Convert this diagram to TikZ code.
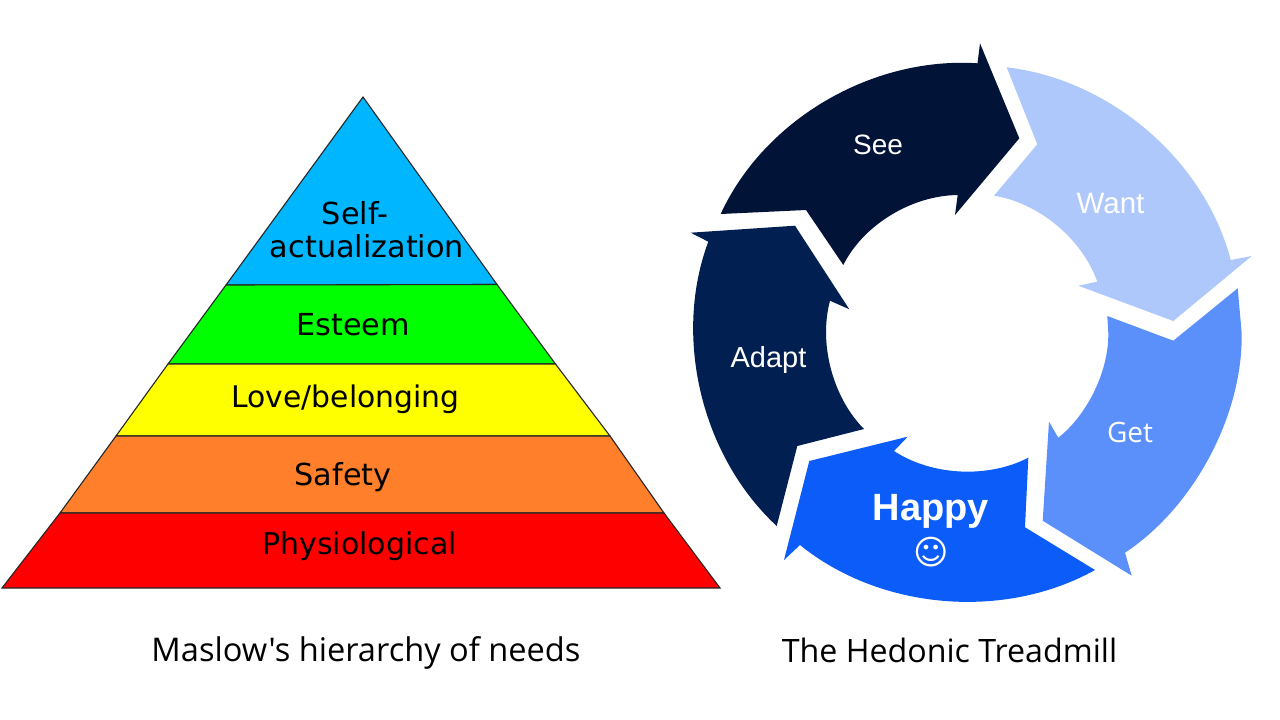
\documentclass[tikz,border=0pt]{standalone}
\usepackage{fontspec}
\setmainfont{Open Sans}
\newfontfamily\capfont{Open Sans}
\newfontfamily\dejavu{DejaVu Sans}
\newfontfamily\libsans{Liberation Sans}
\usetikzlibrary{calc}
\definecolor{cSee}{HTML}{021338}
\definecolor{cAdapt}{HTML}{011F50}
\definecolor{cWant}{HTML}{AEC8FB}
\definecolor{cGet}{HTML}{5B90FB}
\definecolor{cHappy}{HTML}{0B5CF8}
\definecolor{cSelf}{HTML}{00B7FF}
\definecolor{cGreen}{HTML}{00FF00}
\definecolor{cYellow}{HTML}{FFFF00}
\definecolor{cOrange}{HTML}{FF7F2A}
\definecolor{cRed}{HTML}{FF0000}
\newcommand\thru[3]{.. controls ($0.0433*#1-0.3767*#3+1.3333*#2$) and ($0.0433*#3-0.3767*#1+1.3333*#2$) .. #3}
\tikzset{
  layer/.style={draw=black!85,line width=1.1pt,line join=miter},
  plabel/.style={font=\dejavu\fontsize{30.3}{34}\selectfont,text=black,inner sep=0pt,align=center},
  captext/.style={text=black,inner sep=0pt},
  alabel/.style={text=white,inner sep=0pt},
}
\begin{document}
\begin{tikzpicture}[x=1pt,y=-1pt]
\useasboundingbox (0,0) rectangle (1280,720);
% pyramid
\fill[white] (0,0) rectangle (1280,720);
\draw[layer,fill=cSelf] (363,97) -- (497,284.5) -- (226,285) -- cycle;
\draw[layer,fill=cGreen] (226,285) -- (497,284.5) -- (555.5,364) -- (168,364) -- cycle;
\draw[layer,fill=cYellow] (168,364) -- (555.5,364) -- (610,436) -- (116,436) -- cycle;
\draw[layer,fill=cOrange] (116,436) -- (610,436) -- (664,513) -- (60,513) -- cycle;
\draw[layer,fill=cRed] (60,513) -- (664,513) -- (720,588) -- (2,588) -- cycle;
\node[plabel] (self) at (355,213) {Self-};
\node[plabel] (act) at (367,246) {actualization};
\node[plabel] (esteem) at (353,325) {Esteem};
\node[plabel,font=\dejavu\fontsize{29.8}{34}\selectfont] (love) at (345.5,399.5) {Love/belonging};
\node[plabel] (safety) at (343,477.5) {Safety};
\node[plabel,font=\dejavu\fontsize{30}{34}\selectfont] (phys) at (359.5,546.5) {Physiological};
% treadmill
\fill[cSee] (720.7,214) \thru{(720.7,214)}{(825.8,100.7)}{(977.5,63.3)} -- (980,43.3) -- (1019.3,138.3) -- (955,215) -- (957.7,195)
  \thru{(957.7,195)}{(890.7,215.2)}{(843.3,265)} -- (806,210) -- cycle;
\fill[cWant] (1006.7,67.3) \thru{(1006.7,67.3)}{(1148,130.9)}{(1230.7,260)} -- (1251.7,256) -- (1173.3,321) -- (1078.3,285.7) -- (1097.3,281.7)
  \thru{(1097.3,281.7)}{(1056.8,225.3)}{(994,195.7)} -- (1037.3,144.3) -- cycle;
\fill[cGet] (1237.7,288.3) -- (1241.7,333) \thru{(1241.7,333)}{(1209.8,456.5)}{(1125,552.7)} -- (1131.7,575.7) -- (1042.7,520.7) -- (1049,421.7) -- (1058.3,437.7)
  \thru{(1058.3,437.7)}{(1094.6,390.8)}{(1108.3,333.3)} -- (1107.3,316) -- (1173.3,340.7) -- cycle;
\fill[cHappy] (1028.3,457.7) -- (1025,527.3) -- (1095,570) \thru{(1095,570)}{(943.6,600.9)}{(800,545)} -- (784,560) -- (809.3,461) -- (907.7,436.7) -- (894,451)
  \thru{(894,451)}{(960.2,471.5)}{(1028.3,457.7)} -- cycle;
\fill[cAdapt] (776.7,526) \thru{(776.7,526)}{(701,393.4)}{(708.3,241.7)} -- (690.7,232.7) -- (795,225.7) -- (849.3,309.3) -- (830,300.7)
  \thru{(830,300.7)}{(831,369.2)}{(864,429)} -- (797.3,446) -- cycle;
\node[alabel,font=\libsans\fontsize{28}{32}\selectfont] (see) at (878,145) {See};
\node[alabel,font=\libsans\fontsize{29.5}{32}\selectfont] (want) at (1110.5,203) {Want};
\node[alabel,font=\libsans\fontsize{29}{32}\selectfont] (adapt) at (768.5,360) {Adapt};
\node[alabel,font=\fontsize{28}{32}\selectfont] (get) at (1130,432) {Get};
\node[alabel,font=\libsans\bfseries\fontsize{38}{42}\selectfont] (happy) at (931,511) {Happy};
\node[alabel,font=\dejavu\fontsize{34}{40}\selectfont] (smile) at (931,552) {☺};
% captions
\node[captext,font=\capfont\fontsize{32.6}{38}\selectfont] (c1) at (366,653) {Maslow's hierarchy of needs};
\node[captext,font=\capfont\fontsize{32.2}{38}\selectfont] (c2) at (949.5,650) {The Hedonic Treadmill};
\end{tikzpicture}
\end{document}
